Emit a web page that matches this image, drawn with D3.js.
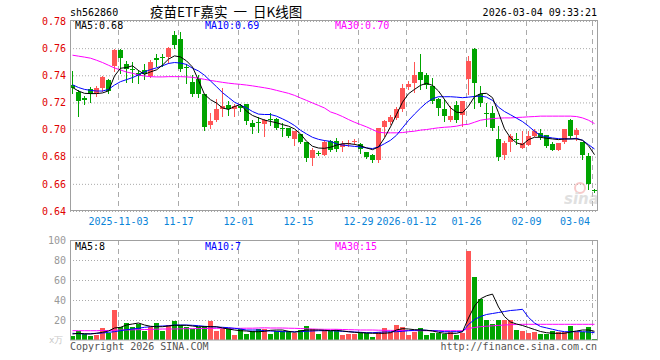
<!DOCTYPE html>
<html>
<head>
<meta charset="utf-8">
<script src="https://cdn.jsdelivr.net/npm/d3@7"></script>
<style>
html, body { margin: 0; padding: 0; background: #fff; }
svg { display: block; }
text { font-family: "DejaVu Sans Mono", monospace; font-size: 10px; }
</style>
</head>
<body>
<div id="chart"></div>
<script>
// trading days, 2025-10-22 .. 2026-03-04
var dates = [
  "10-22","10-23","10-24","10-27","10-28","10-29","10-30","10-31",
  "11-03","11-04","11-05","11-06","11-07","11-10","11-11","11-12","11-13","11-14",
  "11-17","11-18","11-19","11-20","11-21","11-24","11-25","11-26","11-27","11-28",
  "12-01","12-02","12-03","12-04","12-05","12-08","12-09","12-10","12-11","12-12",
  "12-15","12-16","12-17","12-18","12-19","12-22","12-23","12-24","12-25","12-26",
  "12-29","12-30","12-31",
  "01-05","01-06","01-07","01-08","01-09","01-12","01-13","01-14","01-15","01-16",
  "01-19","01-20","01-21","01-22","01-23","01-26","01-27","01-28","01-29","01-30",
  "02-02","02-03","02-04","02-05","02-06","02-09","02-10","02-11","02-12","02-13",
  "02-24","02-25","02-26","02-27","03-02","03-03","03-04"
];

var open = [
  .7325,.7280,.7230,.7300,.7260,.7305,.7363,.7470,.7588,.7480,
  .7450,.7420,.7440,.7395,.7525,.7535,.7533,.7696,.7667,.7462,
  .7353,.7370,.7259,.7032,.7069,.7150,.7178,.7150,.7175,.7185,
  .7050,.7057,.7042,.7076,.7079,.7015,.7013,.6931,.6968,.6906,
  .6790,.6830,.6815,.6913,.6913,.6872,.6900,.6911,.6896,.6832,
  .6815,.6773,.7020,.7054,.7087,.7148,.7313,.7341,.7426,.7400,
  .7318,.7227,.7153,.7069,.7178,.7111,.7370,.7593,.7259,.7122,
  .7119,.6931,.6815,.6906,.6928,.6864,.6889,.6956,.6975,.6963,
  .6896,.6852,.6906,.7069,.6963,.6906,.6802,.6556
];
var close = [
  .7310,.7210,.7215,.7265,.7310,.7385,.7285,.7590,.7531,.7445,
  .7445,.7395,.7410,.7500,.7515,.7525,.7598,.7624,.7450,.7455,
  .7260,.7260,.7020,.7065,.7150,.7173,.7155,.7172,.7160,.7062,
  .7020,.7052,.7074,.7072,.7013,.7011,.6950,.6987,.6906,.6790,
  .6852,.6825,.6906,.6852,.6857,.6896,.6904,.6915,.6857,.6797,
  .6773,.7013,.7062,.7094,.7153,.7309,.7333,.7400,.7367,.7326,
  .7210,.7161,.7099,.7099,.7074,.7210,.7506,.7346,.7193,.7117,
  .7013,.6797,.6902,.6956,.6924,.6902,.6956,.6987,.6946,.6876,
  .6852,.6902,.7005,.6950,.6996,.6815,.6600,.6550
];
var high = [
  .7430,.7290,.7250,.7315,.7320,.7395,.7373,.7595,.7592,.7506,
  .7496,.7440,.7480,.7515,.7556,.7556,.7605,.7728,.7720,.7480,
  .7400,.7400,.7265,.7124,.7222,.7309,.7210,.7185,.7190,.7190,
  .7074,.7091,.7080,.7124,.7085,.7050,.7015,.6990,.6970,.6910,
  .6867,.6845,.6926,.6920,.6935,.6913,.6925,.6930,.6900,.6835,
  .6818,.7013,.7070,.7110,.7170,.7333,.7358,.7500,.7556,.7420,
  .7377,.7235,.7222,.7173,.7210,.7210,.7543,.7600,.7321,.7198,
  .7173,.7025,.6913,.6970,.6975,.6987,.6987,.7005,.7005,.6963,
  .6910,.6902,.7005,.7075,.7013,.6906,.6827,.6560
];
var low = [
  .7270,.7100,.7185,.7205,.7245,.7284,.7270,.7430,.7420,.7350,
  .7348,.7340,.7370,.7390,.7469,.7470,.7494,.7600,.7432,.7346,
  .7247,.7240,.7000,.7010,.7062,.7100,.7111,.7100,.7140,.7040,
  .6976,.6980,.6950,.7037,.7005,.6950,.6945,.6889,.6900,.6765,
  .6740,.6815,.6810,.6845,.6840,.6839,.6880,.6895,.6827,.6790,
  .6758,.6758,.6950,.7040,.7080,.7140,.7300,.7276,.7302,.7309,
  .7198,.7104,.7062,.7065,.7054,.7030,.7262,.7161,.7173,.7025,
  .7000,.6778,.6783,.6839,.6896,.6864,.6885,.6950,.6930,.6870,
  .6848,.6848,.6900,.6940,.6926,.6783,.6563,.6543
];

// price moving averages as drawn
var ma5 = [
  .7310,.7284,.7267,.7265,.7265,.7270,.7285,.7395,.7452,.7457,
  .7470,.7435,.7407,.7425,.7440,.7475,.7519,.7543,.7535,.7506,
  .7461,.7363,.7259,.7220,.7195,.7160,.7148,.7170,.7185,.7135,
  .7104,.7086,.7070,.7060,.7050,.7037,.7025,.7005,.6968,.6914,
  .6877,.6864,.6862,.6870,.6885,.6896,.6896,.6891,.6881,.6865,
  .6852,.6872,.6939,.7020,.7111,.7202,.7264,.7296,.7326,.7341,
  .7326,.7284,.7222,.7160,.7128,.7124,.7173,.7242,.7264,.7267,
  .7235,.7124,.7005,.6939,.6902,.6889,.6926,.6943,.6943,.6936,
  .6931,.6926,.6931,.6931,.6931,.6921,.6881,.6815
];
var ma10 = [
  .7330,.7310,.7296,.7289,.7284,.7284,.7296,.7328,.7353,.7368,
  .7383,.7403,.7425,.7442,.7455,.7470,.7487,.7494,.7490,.7480,
  .7452,.7432,.7400,.7358,.7316,.7272,.7237,.7202,.7180,.7160,
  .7133,.7114,.7111,.7111,.7099,.7079,.7057,.7030,.6995,.6968,
  .6943,.6928,.6919,.6913,.6894,.6886,.6881,.6876,.6872,.6865,
  .6860,.6872,.6896,.6921,.6958,.7013,.7067,.7114,.7158,.7198,
  .7227,.7242,.7242,.7242,.7239,.7235,.7239,.7244,.7247,.7239,
  .7215,.7165,.7133,.7109,.7084,.7059,.7025,.6988,.6956,.6946,
  .6938,.6933,.6931,.6931,.6936,.6921,.6889,.6857
];
var ma30 = [
  .7548,.7541,.7534,.7526,.7511,.7494,.7474,.7454,.7439,.7424,
  .7415,.7402,.7395,.7390,.7388,.7388,.7390,.7390,.7390,.7388,
  .7385,.7378,.7370,.7362,.7355,.7348,.7342,.7337,.7333,.7328,
  .7322,.7315,.7308,.7300,.7289,.7278,.7267,.7252,.7233,.7215,
  .7196,.7178,.7159,.7130,.7115,.7096,.7074,.7054,.7037,.7020,
  .7000,.6980,.6976,.6976,.6976,.6978,.6984,.6988,.6996,.7000,
  .7007,.7013,.7017,.7020,.7025,.7035,.7039,.7054,.7069,.7076,
  .7081,.7084,.7086,.7086,.7089,.7091,.7094,.7096,.7099,.7099,
  .7099,.7099,.7099,.7099,.7096,.7086,.7069,.7044
];

// volume, in 万
var volume = [
  4,9,6,4,5,12,6.7,30,13,16.7,
  12.7,16,9.3,13.3,16.7,9.3,15,19.3,15,13.3,
  10.7,12.7,14,19.3,9.3,10.7,11.7,5,10.7,6,
  9.3,10.7,10.7,6,9.3,9.3,9.3,7.3,10,14,
  10.7,6,10,9.3,10,5,6,6,8.3,6.7,
  3.3,8.3,12.3,8.3,15,13.3,5,8.3,12.3,5,
  6.7,7.3,6,8.3,5,7.3,89.3,63.3,41,20,
  16,20,20,20,10,9,6.7,8,6,6,
  9.3,8.3,8.3,14,8.3,8.3,13.3,1.3
];
var vma5 = [
  6,6.7,6.3,6,6.7,7.7,9,12,12.7,15,
  16,17,15,13.7,13.3,13.3,14,14.7,14.7,14.7,
  14,13.3,13.3,13.3,13.3,12,11,10,9.3,9,
  8.3,8.3,8.7,9.7,10,10,8.7,7.7,9,10,
  10,10,9.7,9.3,9.7,9,8.3,7.7,7.3,7,
  6.7,6.7,6.7,7.3,10,11.3,11,10.3,10,9.7,
  9,7.7,6.7,6.7,6.7,8.3,22,34,41.2,44.2,
  45.9,33,23.4,18,16,14.5,12.5,10.5,8.5,7.3,
  6.7,6.7,6.7,8,9,10,10,8.7
];
var vma10 = [
  6.7,6.3,6,6.3,6.7,7,7.7,8.3,9.3,10.3,
  11,11.7,12.7,13.3,13.7,14,14.3,15,15,15,
  14.7,14.3,13.7,13.3,13,12.7,12.3,11.7,11,10,
  10,10,9.3,9,8.7,8.3,8.3,8.3,8.3,8.7,
  9,9.3,9.3,9.3,9,8.7,8.3,8,7.7,7.3,
  7.3,7.7,8,8.3,8.3,8.7,9.3,9.7,10,9.7,
  9.3,9,8.3,8.3,8.3,8.3,15.5,20.5,23.5,25.5,
  26.5,27.5,28.5,29.5,30,30.7,22.6,17,13.5,12.1,
  10.7,9.3,8.3,8.3,8.3,8.3,8,7.3
];
var vma30 = [
  9.3,9.3,9.3,9.3,9.3,9.5,9.5,9.8,10,10,
  10.2,10.3,10.5,10.6,10.8,11,11,11,11.2,11.3,
  11.3,11.4,11.5,11.6,11.7,11.7,11.7,11.7,11.7,11.8,
  11.8,12,12.2,12,12,12,11.8,11.7,11.5,11.2,
  11,10.8,10.7,10.7,10.7,10.5,10.3,10.2,10,10,
  10,9.8,9.7,9.6,9.5,9.5,9.4,9.3,9.3,9.3,
  9.3,9.3,9.3,9.3,9.3,9.3,11.5,12.5,13.3,13.8,
  14.2,14.6,15,15.3,15.5,15.7,15.7,15.7,15.7,15.7,
  15.7,15.7,15.7,15.7,15.7,15.7,15.7,15.7
];

var priceTicks = [0.64, 0.66, 0.68, 0.70, 0.72, 0.74, 0.76, 0.78];
var volTicks = [20, 40, 60, 80, 100];
var dateTicks = ["11-03", "11-17", "12-01", "12-15", "12-29", "01-12", "01-26", "02-09", "03-04"];
var dateTickLabels = ["2025-11-03", "11-17", "12-01", "12-15", "12-29", "2026-01-12", "01-26", "02-09", "03-04"];

var W = 660, H = 360;
var L = 70, R = 597;
var RED = "#ff5555", GREEN = "#00a400";

var svg = d3.select("#chart").append("svg")
    .attr("width", W)
    .attr("height", H);

var x = d3.scaleBand()
    .domain(dates)
    .range([L, R])
    .paddingInner(1 / 6)
    .paddingOuter(0);
var y = d3.scaleLinear().domain([0.64, 0.78]).range([211, 21]);
var yv = d3.scaleLinear().domain([0, 100]).range([340, 240]);

var cx = function(d) { return x(d) + 2.5; };
var isUp = function(i) { return close[i] >= open[i]; };

// horizontal dotted grid + left labels
var pAxis = svg.append("g")
    .attr("transform", "translate(" + L + ",0)")
    .call(d3.axisLeft(y).tickValues(priceTicks).tickSize(-(R - L)).tickPadding(4)
      .tickFormat(d3.format(".2f")));
pAxis.select(".domain").remove();
pAxis.selectAll("line").attr("stroke", "#aaa").attr("stroke-dasharray", "1,2");
pAxis.selectAll("text").attr("fill", "#e00000").style("font-size", "10px")
    .style("font-family", "'DejaVu Sans Mono', monospace");

var vAxis = svg.append("g")
    .attr("transform", "translate(" + L + ",0)")
    .call(d3.axisLeft(yv).tickValues(volTicks).tickSize(-(R - L)).tickPadding(4));
vAxis.select(".domain").remove();
vAxis.selectAll("line").attr("stroke", "#aaa").attr("stroke-dasharray", "1,2");
vAxis.selectAll("text").attr("fill", "#999").style("font-size", "10px")
    .style("font-family", "'DejaVu Sans Mono', monospace");

// vertical dashed grid
[[21, 211], [240, 340]].forEach(function(r) {
  svg.append("g").selectAll("line")
      .data(dateTicks)
    .enter().append("line")
      .attr("x1", function(d) { return x(d) + 0.5; })
      .attr("x2", function(d) { return x(d) + 0.5; })
      .attr("y1", r[0])
      .attr("y2", r[1])
      .attr("stroke", "#aaa")
      .attr("stroke-dasharray", "5,4");
});

// sina watermark
var wm = svg.append("g").attr("opacity", 0.55);
wm.append("circle").attr("cx", 580).attr("cy", 188).attr("r", 5)
    .attr("fill", "none").attr("stroke", "#f2a0a0").attr("stroke-width", 2);
wm.append("text").attr("x", 564).attr("y", 204).text("sina")
    .style("font-family", "'DejaVu Sans', sans-serif").style("font-size", "15px")
    .style("font-style", "italic").style("font-weight", "bold").attr("fill", "#c8c8c8");

// candles
var candles = svg.append("g").selectAll("g")
    .data(dates)
  .enter().append("g")
    .attr("fill", function(d, i) { return isUp(i) ? RED : GREEN; })
    .attr("stroke", function(d, i) { return isUp(i) ? RED : GREEN; });

candles.append("line")
    .attr("x1", cx).attr("x2", cx)
    .attr("y1", function(d, i) { return Math.round(y(high[i])); })
    .attr("y2", function(d, i) { return Math.round(y(low[i])) + 1; });

candles.append("rect")
    .attr("stroke", "none")
    .attr("x", function(d) { return x(d); })
    .attr("width", x.bandwidth())
    .attr("y", function(d, i) { return Math.round(y(Math.max(open[i], close[i]))); })
    .attr("height", function(d, i) {
      var a = Math.round(y(Math.max(open[i], close[i])));
      var b = Math.round(y(Math.min(open[i], close[i])));
      return Math.max(1, b - a);
    });

// volume bars
svg.append("g").selectAll("rect")
    .data(dates)
  .enter().append("rect")
    .attr("x", function(d) { return x(d); })
    .attr("width", x.bandwidth())
    .attr("y", function(d, i) { return Math.round(yv(volume[i])); })
    .attr("height", function(d, i) { return 340 - Math.round(yv(volume[i])); })
    .attr("fill", function(d, i) { return isUp(i) ? RED : GREEN; });

// moving average lines
function maLine(arr, scale) {
  return d3.line()
    .x(function(d) { return cx(d); })
    .y(function(d, i) { return scale(arr[i]); })(dates);
}
var maSets = [
  [ma30, y, "#ff00ff"], [ma10, y, "#0000ff"], [ma5, y, "#000"],
  [vma30, yv, "#ff00ff"], [vma10, yv, "#0000ff"], [vma5, yv, "#000"]
];
maSets.forEach(function(s) {
  svg.append("path")
      .attr("d", maLine(s[0], s[1]))
      .attr("fill", "none")
      .attr("stroke", s[2])
      .attr("stroke-width", 1);
});

// frames
svg.append("rect").attr("x", L + 0.5).attr("y", 20.5).attr("width", R - L).attr("height", 190)
    .attr("fill", "none").attr("stroke", "#a0a0a0");
svg.append("rect").attr("x", L + 0.5).attr("y", 240.5).attr("width", R - L).attr("height", 99.5)
    .attr("fill", "none").attr("stroke", "#a0a0a0");

// date labels
svg.append("g").selectAll("text")
    .data(dateTicks)
  .enter().append("text")
    .attr("x", function(d, i) {
      var half = dateTickLabels[i].length * 3;
      return Math.min(x(d) + 0.5, R - 7 - half);
    })
    .attr("y", 225)
    .attr("text-anchor", "middle")
    .attr("fill", "#0a84d8")
    .text(function(d, i) { return dateTickLabels[i]; });

// header
svg.append("text").attr("x", L).attr("y", 16).text("sh562860").attr("fill", "#000");
svg.append("text").attr("x", 150).attr("y", 17).text("疫苗ETF嘉实  一  日K线图")
    .style("white-space", "pre")
    .style("font-family", "'Noto Sans CJK SC', sans-serif").style("font-size", "13.5px")
    .attr("fill", "#000");
svg.append("text").attr("x", R).attr("y", 16).attr("text-anchor", "end")
    .text("2026-03-04 09:33:21").attr("fill", "#000");

// legends
var legends = [
  [75, 29, "#000", "MA5:0.68"], [205, 29, "#0000ff", "MA10:0.69"], [335, 29, "#ff00ff", "MA30:0.70"],
  [75, 250, "#000", "MA5:8"], [205, 250, "#0000ff", "MA10:7"], [335, 250, "#ff00ff", "MA30:15"]
];
legends.forEach(function(l) {
  svg.append("text").attr("x", l[0]).attr("y", l[1]).attr("fill", l[2]).text(l[3]);
});

// footer
svg.append("text").attr("x", 49).attr("y", 343).text("x万").attr("fill", "#c8c8c8")
    .style("font-size", "9px");
svg.append("text").attr("x", L).attr("y", 350).text("Copyright 2026 SINA.COM").attr("fill", "#555");
svg.append("text").attr("x", R).attr("y", 350).attr("text-anchor", "end")
    .text("http://finance.sina.com.cn").attr("fill", "#555");
</script>
</body>
</html>
